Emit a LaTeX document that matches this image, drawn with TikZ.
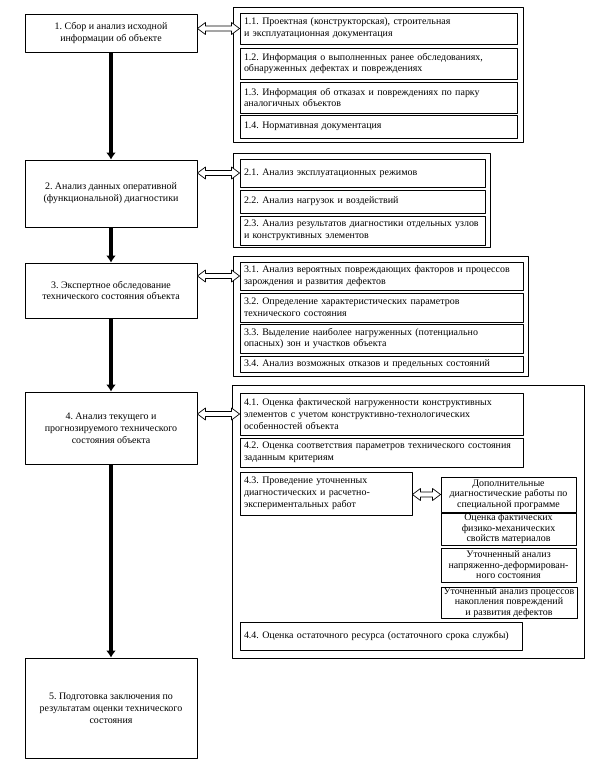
\documentclass[tikz,border=0pt]{standalone}
\usepackage{fontspec}
\setmainfont{Liberation Serif}
\frenchspacing
\usetikzlibrary{arrows.meta,calc}

\newcommand{\hollowlink}[2]{%
  \draw [hollow] let \p1=(#1.east), \p2=(#2.west) in
    (\x1,\y2) -- (\x1+8bp,\y2+6bp) -- (\x1+8bp,\y2+2.5bp) -- (\x2-8bp,\y2+2.5bp)
    -- (\x2-8bp,\y2+6bp) -- (\x2,\y2) -- (\x2-8bp,\y2-6bp) -- (\x2-8bp,\y2-2.5bp)
    -- (\x1+8bp,\y2-2.5bp) -- (\x1+8bp,\y2-6bp) -- cycle;}

\begin{document}
\begin{tikzpicture}[>=latex,line join=bevel,
  stage/.style={draw,rectangle,line width=0.9bp,minimum width=172bp,align=center,inner sep=2bp,font=\fontsize{10}{12}\selectfont},
  item/.style={draw,rectangle,line width=0.9bp,align=left,inner xsep=4bp,inner ysep=1bp,font=\fontsize{10}{12}\selectfont},
  extra/.style={draw,rectangle,line width=0.9bp,align=center,minimum width=135bp,inner sep=0.5bp,font=\fontsize{10}{10.5}\selectfont},
  frame/.style={draw,rectangle,line width=0.9bp,inner sep=0pt},
  flow/.style={-{Latex[length=7bp,width=10bp]},line width=3.5bp},
  hollow/.style={draw,line width=0.7bp,fill=white},
]
\useasboundingbox (0,0) rectangle (615bp,761bp);
%%
  \node (s1) at (111bp,728bp) [stage,minimum height=38bp] {1. Сбор и анализ исходной\\информации об объекте};
  \node (s2) at (111bp,567.5bp) [stage,minimum height=67bp] {2. Анализ данных оперативной\\(функциональной) диагностики};
  \node (s3) at (111bp,470.5bp) [stage,minimum height=55bp] {3. Экспертное обследование\\технического состояния объекта};
  \node (s4) at (111bp,333bp) [stage,minimum height=72bp] {4. Анализ текущего и\\прогнозируемого технического\\состояния объекта};
  \node (s5) at (111bp,53bp) [stage,minimum height=100bp] {5. Подготовка заключения по\\результатам оценки технического\\состояния};
%
  \node (g1) at (378bp,686.5bp) [frame,minimum width=290bp,minimum height=135bp] {};
  \node (g2) at (361.5bp,561bp) [frame,minimum width=257bp,minimum height=94bp] {};
  \node (g3) at (380.5bp,445bp) [frame,minimum width=295bp,minimum height=120bp] {};
  \node (g4) at (408bp,239.5bp) [frame,minimum width=352bp,minimum height=273bp] {};
%
  \node (i11) at (378.5bp,732.5bp) [item,text width=269bp,minimum height=31bp] {1.1. Проектная (конструкторская), строительная\\и эксплуатационная документация};
  \node (i12) at (378.5bp,697.5bp) [item,text width=269bp,minimum height=31bp] {1.2. Информация о выполненных ранее обследованиях,\\обнаруженных дефектах и повреждениях};
  \node (i13) at (378.5bp,663.5bp) [item,text width=269bp,minimum height=31bp] {1.3. Информация об отказах и повреждениях по парку\\аналогичных объектов};
  \node (i14) at (378.5bp,634.5bp) [item,text width=269bp,minimum height=23bp] {1.4. Нормативная документация};
  \node (i21) at (362.5bp,588bp) [item,text width=237bp,minimum height=28bp] {2.1. Анализ эксплуатационных режимов};
  \node (i22) at (362.5bp,559.5bp) [item,text width=237bp,minimum height=23bp] {2.2. Анализ нагрузок и воздействий};
  \node (i23) at (362.5bp,530.5bp) [item,text width=237bp,minimum height=29bp] {2.3. Анализ результатов диагностики отдельных узлов\\и конструктивных элементов};
  \node (i31) at (381.5bp,485bp) [item,text width=275bp,minimum height=28bp] {3.1. Анализ вероятных повреждающих факторов и процессов\\зарождения и развития дефектов};
  \node (i32) at (381.5bp,453.5bp) [item,text width=275bp,minimum height=29bp] {3.2. Определение характеристических параметров\\технического состояния};
  \node (i33) at (381.5bp,422.5bp) [item,text width=275bp,minimum height=29bp] {3.3. Выделение наиболее нагруженных (потенциально\\опасных) зон и участков объекта};
  \node (i34) at (381.5bp,396.5bp) [item,text width=275bp,minimum height=15.5bp] {3.4. Анализ возможных отказов и предельных состояний};
  \node (i41) at (381.5bp,347bp) [item,text width=275bp,minimum height=42bp] {4.1. Оценка фактической нагруженности конструктивных\\элементов с учетом конструктивно-технологических\\особенностей объекта};
  \node (i42) at (381.5bp,308.5bp) [item,text width=275bp,minimum height=29bp] {4.2. Оценка соответствия параметров технического состояния\\заданным критериям};
  \node (i43) at (326bp,267.5bp) [item,text width=164bp,minimum height=43bp] {4.3. Проведение уточненных\\диагностических и расчетно-\\экспериментальных работ};
  \node (x1) at (508.5bp,266.5bp) [extra,minimum height=35bp] {Дополнительные\\диагностические работы по\\специальной программе};
  \node (x2) at (508.5bp,232bp) [extra,minimum height=32bp] {Оценка фактических\\физико-механических\\свойств материалов};
  \node (x3) at (508.5bp,196bp) [extra,minimum height=34bp] {Уточненный анализ\\напряженно-деформирован-\\ного состояния};
  \node (x4) at (509bp,158.5bp) [extra,minimum width=136bp,minimum height=31bp] {Уточненный анализ процессов\\накопления повреждений\\и развития дефектов};
  \node (i44) at (381bp,125bp) [item,text width=274bp,minimum height=28bp] {4.4. Оценка остаточного ресурса (остаточного срока службы)};
%
  \draw [flow] (s1) -- (s2);
  \draw [flow] (s2) -- (s3);
  \draw [flow] (s3) -- (s4);
  \draw [flow] (s4) -- (s5);
  \hollowlink{s1}{i11}
  \hollowlink{s2}{i21}
  \hollowlink{s3}{i31}
  \hollowlink{s4}{i41}
  \hollowlink{i43}{x1}
%
\end{tikzpicture}
\end{document}
